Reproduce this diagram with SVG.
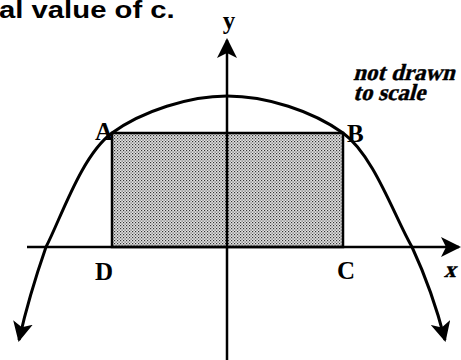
<svg xmlns="http://www.w3.org/2000/svg" width="461" height="360" viewBox="0 0 461 360">
<style>
.ax{stroke:#000;stroke-width:2.5;fill:none}
.cv{stroke:#000;stroke-width:3;fill:none}
.lbl{font-family:"Liberation Serif","DejaVu Serif",serif;font-weight:bold;font-size:25px;fill:#000}
.note{font-family:"Liberation Serif","DejaVu Serif",serif;font-weight:bold;font-size:23px;fill:#000;stroke:#000;stroke-width:0.4}
.head{font-family:"Liberation Sans",Arial,sans-serif;font-weight:bold;font-size:24px;fill:#000}
</style>
<defs>
<pattern id="stip" width="3" height="3" patternUnits="userSpaceOnUse">
<rect width="3" height="3" fill="#e4e4e4"/>
<rect x="0" y="0" width="1.2" height="1.2" fill="#333"/>
<rect x="1.5" y="1.5" width="1.2" height="1.2" fill="#555"/>
</pattern>
<marker id="arr" viewBox="0 0 20 20" refX="18" refY="10" markerWidth="20" markerHeight="20" markerUnits="userSpaceOnUse" orient="auto">
<path d="M0,0 L20,10 L0,20 L5,10 Z" fill="#000"/>
</marker>
</defs>
<text class="head" transform="translate(-1,18) scale(1.22,1)" x="0" y="0">al value of c.</text>
<g id="rect-ABCD">
<rect x="112" y="133" width="231" height="114" fill="url(#stip)" stroke="#000" stroke-width="2.5"/>
</g>
<g id="connectors">
<line class="ax" x1="227" y1="360" x2="227" y2="40" marker-end="url(#arr)"/>
<line class="ax" x1="27" y1="247" x2="459" y2="247" marker-end="url(#arr)"/>
<path class="cv" d="M46,247 C61.3,217.3 81.7,155 112,133 C142.3,111 189.5,96 227,96 C266.5,96 312.3,111 343,133 C373.7,155 394.7,217.3 412,247" />
<path class="cv" d="M46,247 C38,270 28,300 19,340" marker-end="url(#arr)"/>
<path class="cv" d="M412,247 C425,275 436,305 445,340" marker-end="url(#arr)"/>
</g>
<g id="label-y"><text class="lbl" x="229" y="29" text-anchor="middle" font-size="26">y</text></g>
<g id="label-A"><text class="lbl" x="95" y="140">A</text></g>
<g id="label-B"><text class="lbl" x="347" y="142">B</text></g>
<g id="label-D"><text class="lbl" x="95" y="280">D</text></g>
<g id="label-C"><text class="lbl" x="337" y="279">C</text></g>
<g id="label-x"><text class="note" transform="translate(444,277) skewX(-15)" x="0" y="0">x</text></g>
<g id="note">
<text class="note" transform="translate(353,80) skewX(-15)" x="0" y="0">not drawn</text>
<text class="note" transform="translate(353,100) skewX(-15)" x="0" y="0">to scale</text>
</g>
</svg>
